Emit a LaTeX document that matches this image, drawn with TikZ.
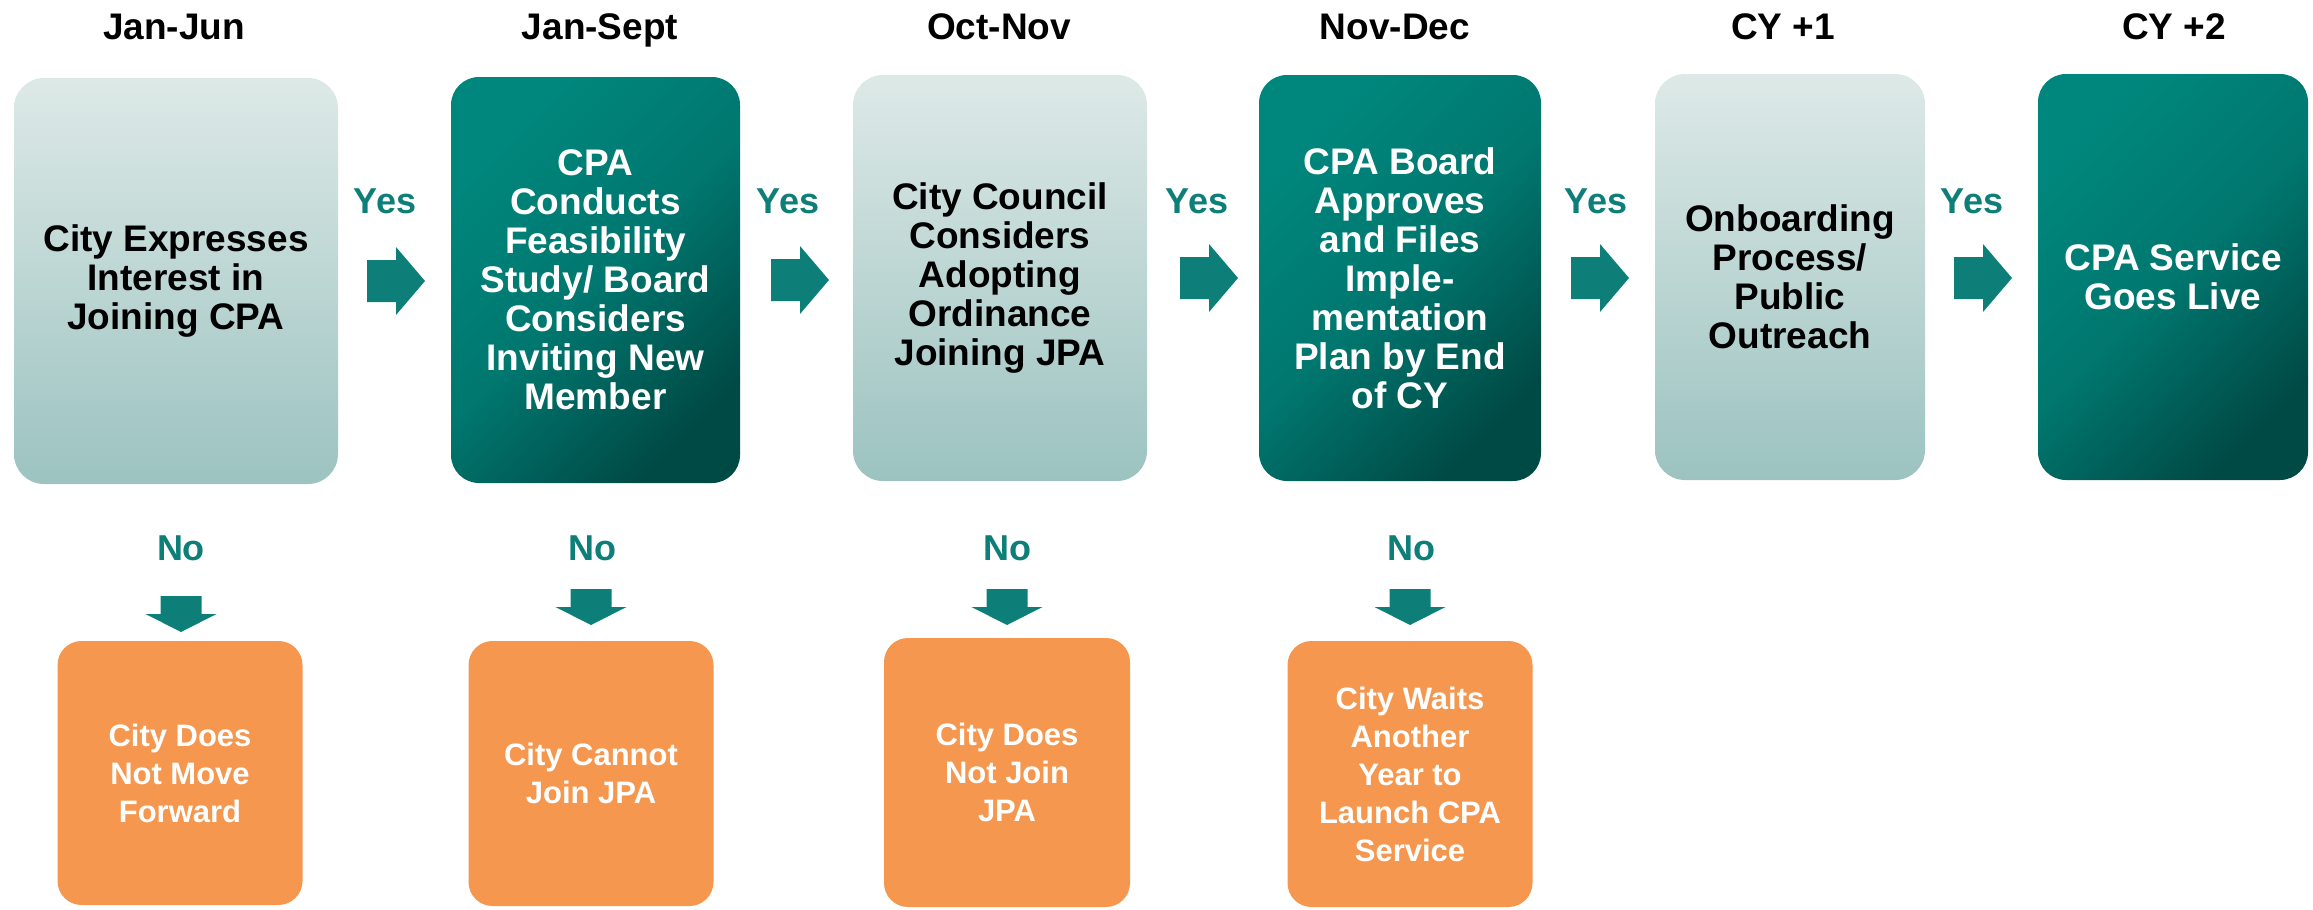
\documentclass[tikz,border=0pt]{standalone}
\usepackage{fontspec}
\setmainfont{Liberation Sans}
\definecolor{tealfg}{HTML}{0E7F78}
\definecolor{lighttop}{HTML}{DDE9E7}
\definecolor{lightbot}{HTML}{9CC3C0}
\definecolor{darktop}{HTML}{00877D}
\definecolor{darkmid}{HTML}{00776F}
\definecolor{darkbot}{HTML}{004A45}
\definecolor{orangebox}{HTML}{F5974F}
\newcommand\topfont{\fontsize{37}{39}\selectfont\bfseries}
\newcommand\lblfont{\fontsize{36}{39}\selectfont\bfseries}
\newcommand\botfont{\fontsize{31}{38}\selectfont\bfseries}
\begin{document}
\begin{tikzpicture}[x=1pt,y=-1pt,
  lbox/.style={rounded corners=30pt, top color=lighttop, bottom color=lightbot,
    text=black, align=center, inner sep=0pt, font=\topfont, minimum height=406pt},
  dbox/.style={rounded corners=28pt, top color=darktop, bottom color=darkbot,
    middle color=darkmid, shading angle=45,
    text=white, align=center, inner sep=0pt, font=\topfont, minimum height=406pt},
  obox/.style={rounded corners=24pt, fill=orangebox, text=white, align=center,
    inner sep=0pt, font=\botfont, minimum width=245pt},
  hdr/.style={text=black, font=\topfont, anchor=base, inner sep=0pt},
  lbl/.style={text=tealfg, font=\lblfont, anchor=base, inner sep=0pt},
  blk/.style={fill=tealfg, draw=none}
]
\useasboundingbox (0,0) rectangle (2313,910);

% headers
\node[hdr] (h1) at (174,39) {Jan-Jun};
\node[hdr] (h2) at (600,39) {Jan-Sept};
\node[hdr] (h3) at (999,39) {Oct-Nov};
\node[hdr] (h4) at (1395,39) {Nov-Dec};
\node[hdr] (h5) at (1783,39) {CY +1};
\node[hdr] (h6) at (2174,39) {CY +2};

% top boxes
\node[lbox, minimum width=324pt] (b1) at (176,281) {City Expresses\\Interest in\\Joining CPA};
\node[dbox, minimum width=289pt] (b2) at (595.5,280) {CPA\\Conducts\\Feasibility\\Study/ Board\\Considers\\Inviting New\\Member};
\node[lbox, minimum width=294pt] (b3) at (1000,278) {City Council\\Considers\\Adopting\\Ordinance\\Joining JPA};
\node[dbox, minimum width=282pt] (b4) at (1400,278) {CPA Board\\Approves\\and Files\\Imple-\\mentation\\Plan by End\\of CY};
\node[lbox, minimum width=270pt] (b5) at (1790,277) {Onboarding\\Process/\\Public\\Outreach};
\node[dbox, minimum width=270pt] (b6) at (2173,277) {CPA Service\\Goes Live};

% Yes labels
\node[lbl] (y1) at (385,213) {Yes};
\node[lbl] (y2) at (788,213) {Yes};
\node[lbl] (y3) at (1197,213) {Yes};
\node[lbl] (y4) at (1596,213) {Yes};
\node[lbl] (y5) at (1972,213) {Yes};

% right block arrows
\foreach \ax/\ay in {367/281, 771/280, 1180/278, 1571/278, 1954/278}{
  \fill[blk] (\ax,\ay-21) -- (\ax+29,\ay-21) -- (\ax+29,\ay-34) -- (\ax+58,\ay)
    -- (\ax+29,\ay+34) -- (\ax+29,\ay+21) -- (\ax,\ay+21) -- cycle;
}

% No labels
\node[lbl] (n1) at (181,560) {No};
\node[lbl] (n2) at (592,560) {No};
\node[lbl] (n3) at (1007,560) {No};
\node[lbl] (n4) at (1411,560) {No};

% down block arrows
\foreach \dx/\dy in {181/596, 591/589, 1007/589, 1410/589}{
  \fill[blk] (\dx-20.5,\dy) -- (\dx+20.5,\dy) -- (\dx+20.5,\dy+18) -- (\dx+35.5,\dy+18)
    -- (\dx,\dy+36) -- (\dx-35.5,\dy+18) -- (\dx-20.5,\dy+18) -- cycle;
}

% bottom boxes
\node[obox, minimum height=264pt] (o1) at (180,773) {City Does\\Not Move\\Forward};
\node[obox, minimum height=265pt] (o2) at (591,773.5) {City Cannot\\Join JPA};
\node[obox, minimum height=269pt, minimum width=246pt] (o3) at (1007,772.5) {City Does\\Not Join\\JPA};
\node[obox, minimum height=266pt] (o4) at (1410,774) {City Waits\\Another\\Year to\\Launch CPA\\Service};
\end{tikzpicture}
\end{document}
